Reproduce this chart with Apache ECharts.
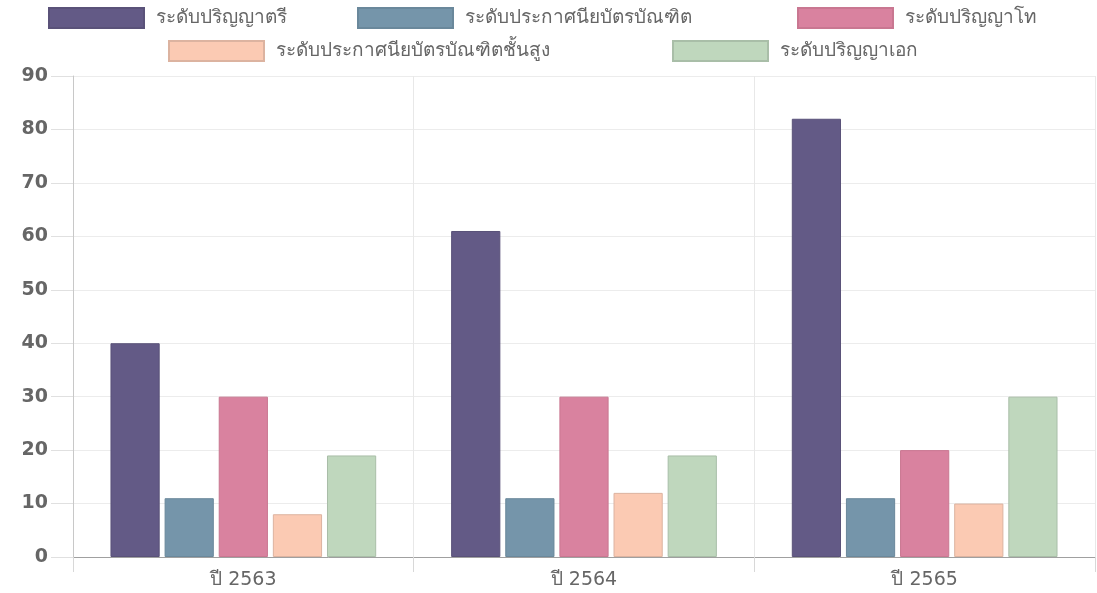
<!DOCTYPE html>
<html>
<head>
<meta charset="utf-8">
<script src="https://cdn.jsdelivr.net/npm/echarts@6/dist/echarts.min.js"></script>
<style>
  html, body { margin: 0; padding: 0; background: #fff; }
  #chart { width: 1097px; height: 593px; }
</style>
</head>
<body>
<div id="chart"></div>
<script>
// หมวดปี
const years = ['ปี 2563', 'ปี 2564', 'ปี 2565'];
// ชื่อระดับการศึกษา
const levels = [
  'ระดับปริญญาตรี',
  'ระดับประกาศนียบัตรบัณฑิต',
  'ระดับปริญญาโท',
  'ระดับประกาศนียบัตรบัณฑิตชั้นสูง',
  'ระดับปริญญาเอก'
];
// ค่าของแต่ละระดับ
const bachelor = [40, 61, 82];
const gradDiploma = [11, 11, 11];
const master = [30, 30, 20];
const highGradDiploma = [8, 12, 10];
const doctor = [19, 19, 30];
const yTicks = [0, 10, 20, 30, 40, 50, 60, 70, 80, 90];

const values = [bachelor, gradDiploma, master, highGradDiploma, doctor];
const colors = ['#635a86', '#7595aa', '#d9829f', '#fbcab3', '#bfd7bd'];
const borders = ['#5a5279', '#6a889b', '#c97791', '#dcb3a0', '#a9bea8'];
// ตำแหน่ง legend แต่ละอัน (แถวบน 3 อัน แถวล่าง 2 อัน)
const legendPos = [[48, 7], [357, 7], [797, 7], [168, 40], [672, 40]];

const chart = echarts.init(document.getElementById('chart'));

const option = {
  animation: false,
  textStyle: { fontFamily: '"DejaVu Sans", sans-serif' },
  legend: levels.map((name, i) => ({
    left: legendPos[i][0],
    top: legendPos[i][1],
    padding: 0,
    itemWidth: 95,
    itemHeight: 20,
    icon: 'rect',
    data: [name],
    textStyle: { fontSize: 19, color: '#666', padding: [0, 0, 0, 7] }
  })),
  grid: {
    left: 73,
    right: 2,
    top: 76,
    bottom: 36,
    containLabel: false
  },
  xAxis: {
    type: 'category',
    data: years,
    axisLine: { lineStyle: { color: '#a0a0a0', width: 1 } },
    axisTick: { show: true, length: 15, lineStyle: { color: '#d8d8d8' } },
    splitLine: { show: true, lineStyle: { color: '#e8e8e8' } },
    axisLabel: { fontSize: 19, color: '#666', margin: 14 }
  },
  yAxis: {
    type: 'value',
    min: yTicks[0],
    max: yTicks[yTicks.length - 1],
    interval: 10,
    axisLine: { show: true, lineStyle: { color: '#c8c8c8' } },
    axisTick: { show: true, length: 22, lineStyle: { color: '#e0e0e0' } },
    splitLine: { lineStyle: { color: '#ececec' } },
    axisLabel: { fontSize: 19, color: '#666', margin: 25, fontWeight: 'bold' }
  },
  series: levels.map((name, i) => ({
    name: name,
    type: 'bar',
    data: values[i],
    barGap: '10%',
    barCategoryGap: '22%',
    itemStyle: { color: colors[i], borderColor: borders[i], borderWidth: 1 }
  }))
};

chart.setOption(option);
</script>
</body>
</html>
